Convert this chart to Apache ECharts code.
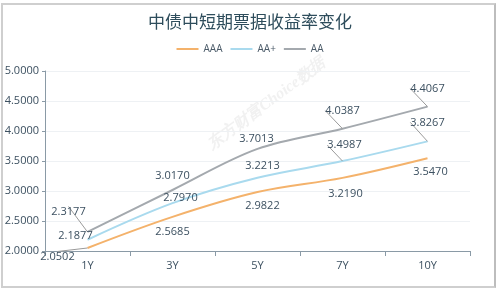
<!DOCTYPE html>
<html><head><meta charset="utf-8">
<script src="https://cdn.jsdelivr.net/npm/echarts@6/dist/echarts.min.js"></script>
<style>
html,body{margin:0;padding:0;background:#fff;}
#frame{position:absolute;left:1px;top:3px;width:491px;height:281px;border:2px solid #cfcfcf;border-right-color:#bdbdbd;}
#c{position:absolute;left:0;top:0;width:500px;height:288px;}
</style></head><body>
<div id="frame"></div>
<div id="c"></div>
<script>
var categories = ['1Y','3Y','5Y','7Y','10Y'];
var aaa = [2.0502, 2.5685, 2.9822, 3.2190, 3.5470];
var aaPlus = [2.1877, 2.7970, 3.2213, 3.4987, 3.8267];
var aa = [2.3177, 3.0170, 3.7013, 4.0387, 4.4067];
var seriesNames = ['AAA','AA+','AA'];

// label offsets and guide-line flags (layout only)
var offAAA = [[-30,9],[0,15],[5,14],[3,16],[3,14]];
var offAAP = [[-12,-4],[8,-5],[5,-12],[2,-16],[0,-19]];
var offAA = [[-19,-20],[0,-14],[-1,-10],[0,-18],[0,-18]];
var lineAAA = [true,false,false,false,false];
var lineAAP = [false,false,false,true,true];
var lineAA = [true,false,false,true,true];

var chart = echarts.init(document.getElementById('c'), null, {renderer:'canvas'});
function mk(name, values, color, offs, lines){
  return {
    name: name, type:'line', smooth:0.35, symbol:'circle', symbolSize:0, showSymbol:true,
    data: values.map(function(v,i){ return {value:v, labelLine:{show:lines[i]}}; }),
    lineStyle:{color:color, width:2}, itemStyle:{color:color},
    label:{show:true, position:'inside', formatter:function(p){return p.value.toFixed(4);}, color:'#3c5060', fontSize:11, fontFamily:'Open Sans'},
    labelLine:{show:true, lineStyle:{color:'#9a9a9a', width:1}},
    labelLayout:function(p){ var o=offs[p.dataIndex]; return {dx:o[0], dy:o[1]}; }
  };
}
chart.setOption({
  animation:false,
  title:{text:'中债中短期票据收益率变化', left:'center', top:8, textStyle:{color:'#2e4d5c', fontSize:17, fontWeight:'normal', fontFamily:'Noto Sans CJK SC'}},
  legend:{data:seriesNames, top:39, left:'center', itemWidth:22, itemHeight:2, itemGap:8, icon:'rect',
    textStyle:{color:'#4a5a68', fontSize:10, fontFamily:'Open Sans'}},
  grid:{left:45, right:30, top:71, bottom:37},
  xAxis:{type:'category', data:categories, boundaryGap:true,
    axisLine:{lineStyle:{color:'#8a9aa6'}}, axisTick:{show:true, lineStyle:{color:'#8a9aa6'}},
    axisLabel:{color:'#3c5060', fontSize:11, margin:9, fontFamily:'Open Sans'}},
  yAxis:{type:'value', min:2, max:5, interval:0.5,
    axisLine:{show:true, lineStyle:{color:'#8a9aa6'}}, axisTick:{show:true, length:3, lineStyle:{color:'#8a9aa6'}},
    splitLine:{lineStyle:{color:'#eef1f4'}},
    axisLabel:{color:'#3c5060', fontSize:11, margin:6, fontFamily:'Open Sans', formatter:function(v){return v.toFixed(4);}}},
  graphic:[{type:'text', x:205, y:140, rotation:0.64, style:{text:'东方财富Choice数据', fill:'rgba(160,160,160,0.15)', font:'bold italic 16px serif'}}],
  series:[mk('AAA', aaa, '#f4b26b', offAAA, lineAAA), mk('AA+', aaPlus, '#a9daee', offAAP, lineAAP), mk('AA', aa, '#a4a9ae', offAA, lineAA)]
});
</script></body></html>
